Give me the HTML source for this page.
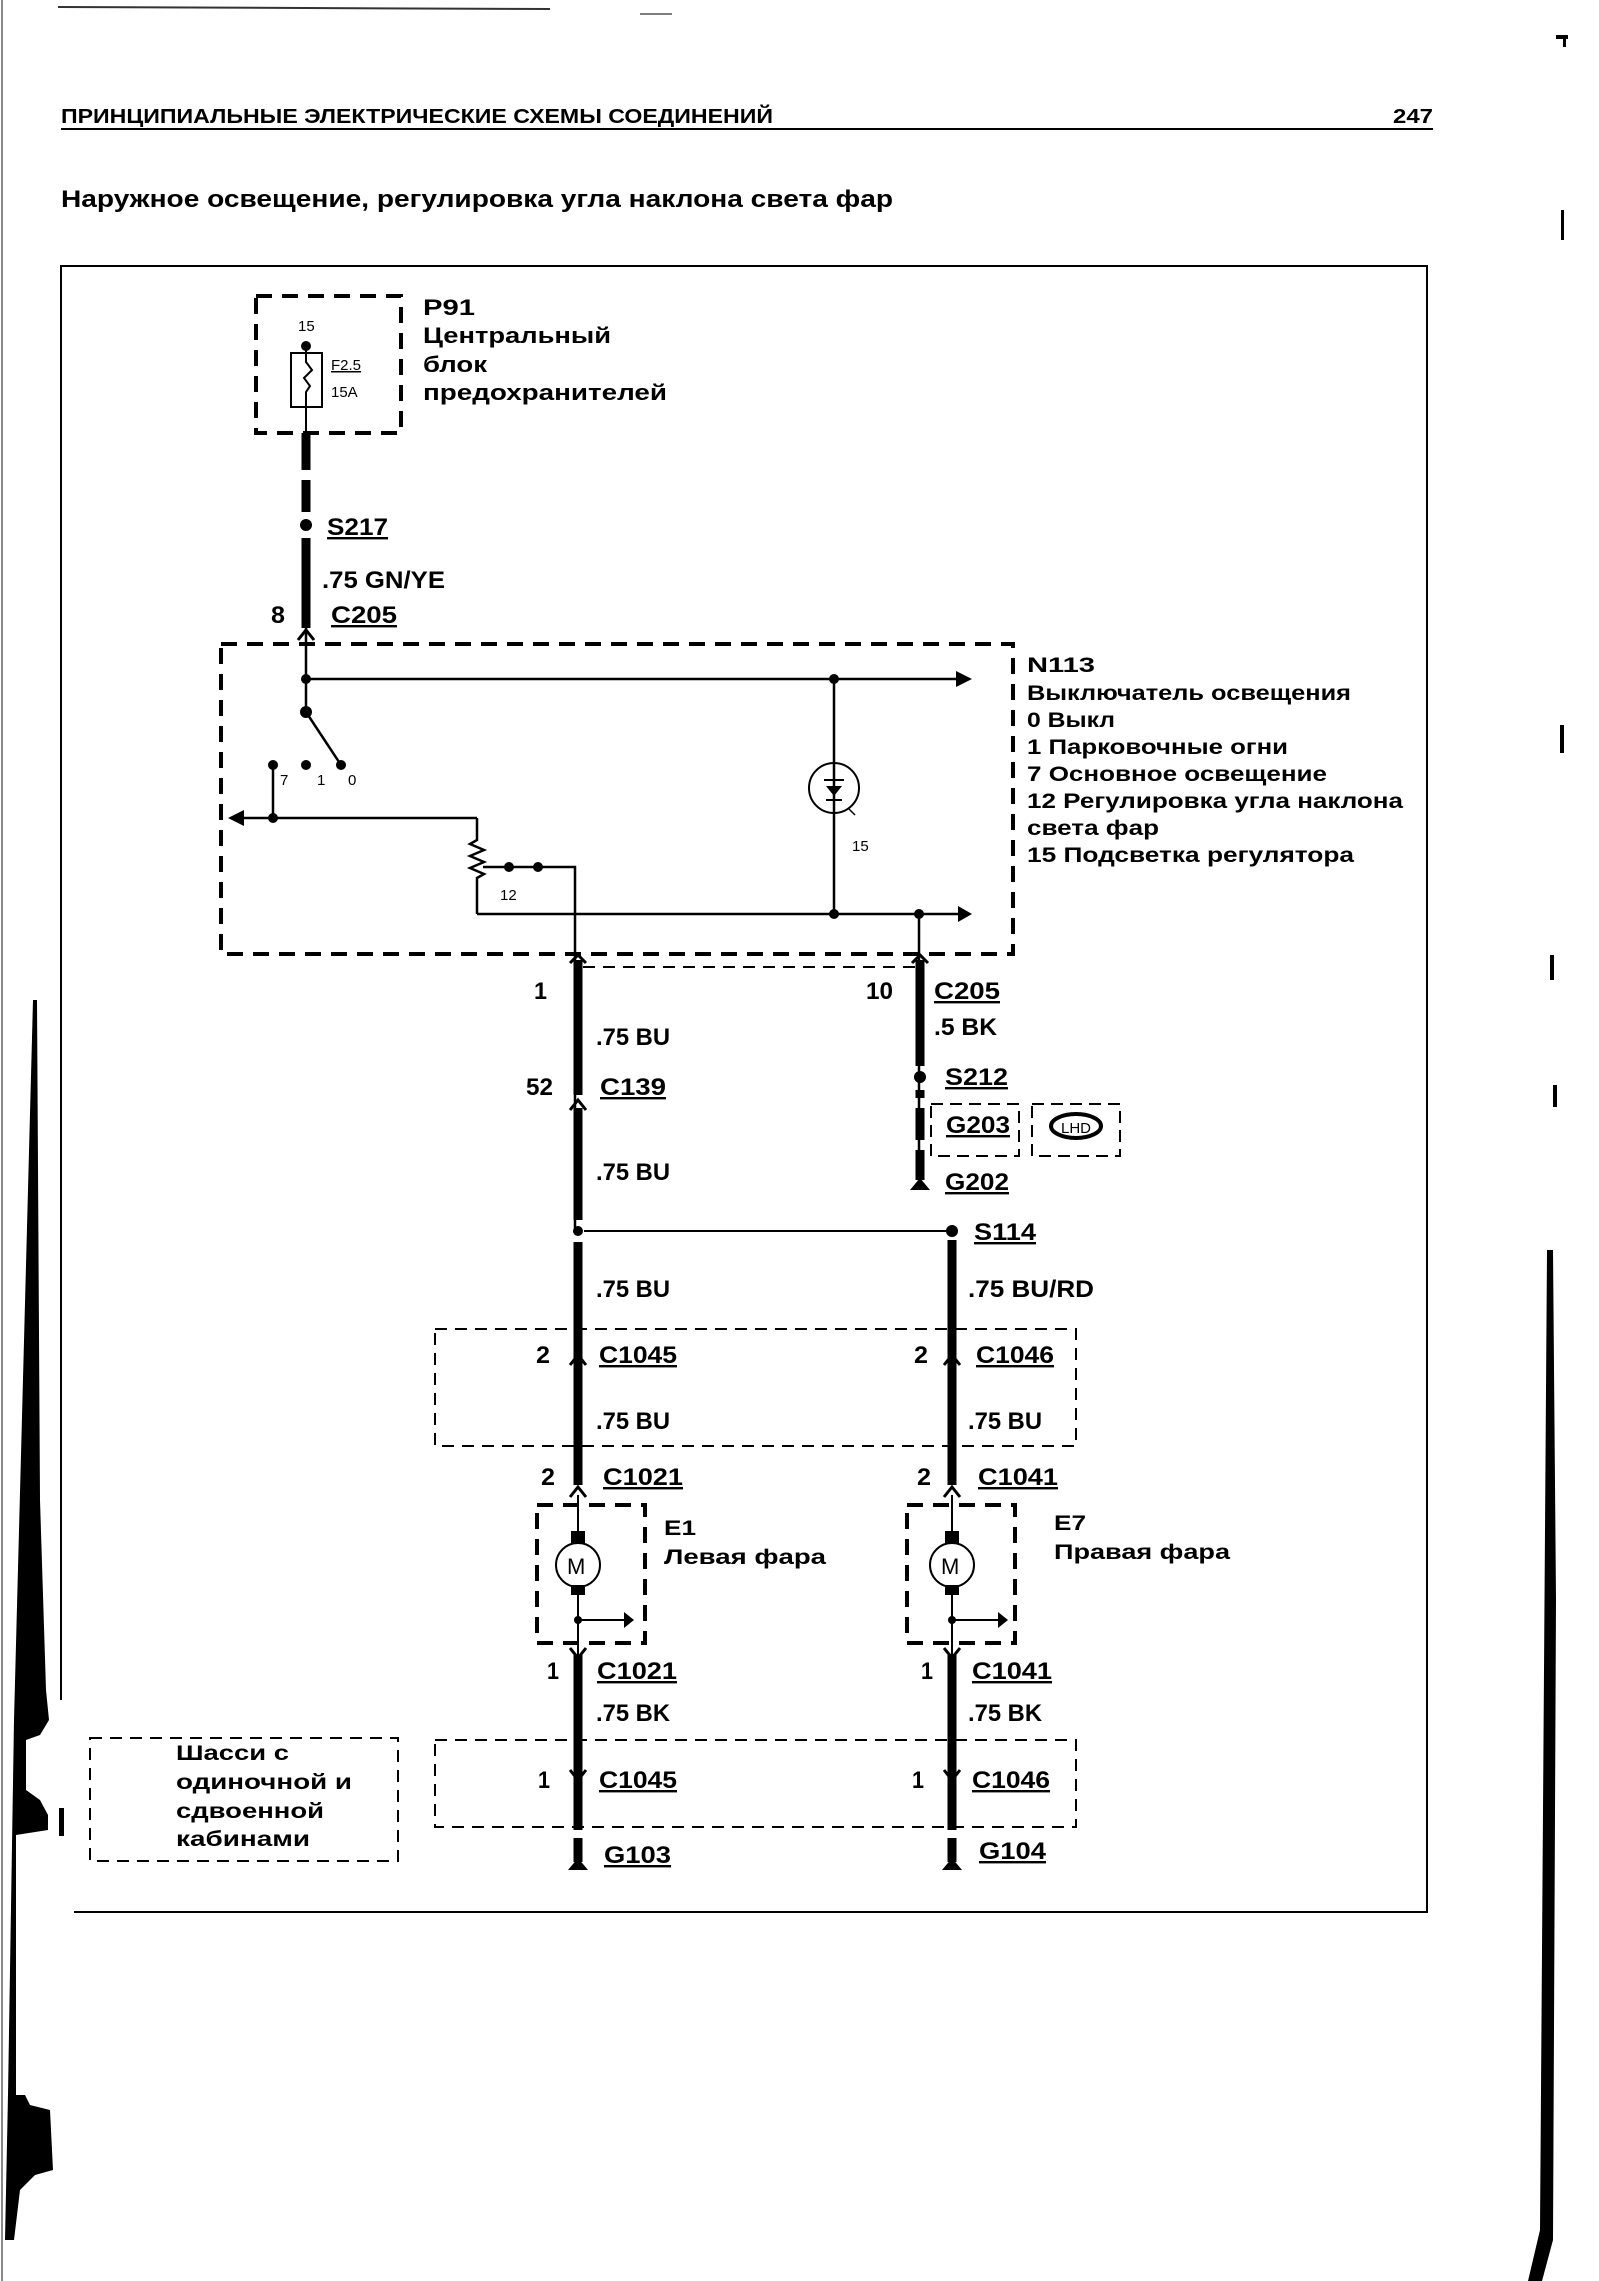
<!DOCTYPE html>
<html><head><meta charset="utf-8"><style>
html,body{margin:0;padding:0;background:#fff}
svg{display:block}
text{font-family:"Liberation Sans","Noto Sans CJK SC",sans-serif;fill:#000}
.b{font-weight:bold}
</style></head><body>
<svg width="1599" height="2281" viewBox="0 0 1599 2281" xmlns="http://www.w3.org/2000/svg">
<rect width="1599" height="2281" fill="#fff"/>
<!-- page artifacts -->
<line x1="2" y1="0" x2="2" y2="2281" stroke="#888" stroke-width="2"/>
<line x1="58" y1="7" x2="550" y2="9" stroke="#333" stroke-width="2"/>
<line x1="640" y1="14" x2="672" y2="14" stroke="#555" stroke-width="1.5"/>
<polygon points="33,1000 37,1000 40,1500 46,1690 49,1720 40,1735 26,1740 26,1790 40,1800 48,1815 48,1830 16,1835 16,2095 8,2095 14,1720" fill="#000"/>
<polygon points="8,2095 25,2095 30,2105 50,2110 53,2170 35,2175 20,2190 14,2240 5,2240" fill="#000"/>
<rect x="59" y="1808" width="5" height="28" fill="#000"/>
<polygon points="1547,1250 1553,1250 1556,1600 1553,2240 1542,2281 1528,2281 1540,2230" fill="#000"/>
<rect x="1550" y="955" width="4" height="25" fill="#000"/>
<rect x="1553" y="1085" width="4" height="22" fill="#000"/>
<rect x="1560" y="725" width="4" height="28" fill="#000"/>
<rect x="1561" y="210" width="3" height="30" fill="#000"/>
<rect x="1556" y="35" width="12" height="4" fill="#000"/>
<rect x="1563" y="35" width="3" height="12" fill="#000"/>

<!-- header -->
<text x="61" y="123" class="b" font-size="20" textLength="712" lengthAdjust="spacingAndGlyphs">ПРИНЦИПИАЛЬНЫЕ ЭЛЕКТРИЧЕСКИЕ СХЕМЫ СОЕДИНЕНИЙ</text>
<text x="1393" y="123" class="b" font-size="20" textLength="40" lengthAdjust="spacingAndGlyphs">247</text>
<line x1="61" y1="129" x2="1433" y2="129" stroke="#000" stroke-width="2"/>
<text x="61" y="207" class="b" font-size="24" textLength="832" lengthAdjust="spacingAndGlyphs">Наружное освещение, регулировка угла наклона света фар</text>

<!-- frame -->
<path d="M61,1700 V266 H1427 V1912 H74" fill="none" stroke="#000" stroke-width="2"/>

<g fill="none" stroke="#000">
<rect x="256" y="296" width="145" height="137" stroke-width="4" stroke-dasharray="16,10"/>
<rect x="291" y="353" width="31" height="54" stroke-width="2"/>
<path d="M306,346 V362 l6,8 -8,8 6,8 -4,6 V433" stroke-width="2"/>
<path d="M306,433 V470 M306,480 V512 M306,538 V628" stroke-width="9"/>
<rect x="221" y="644" width="792" height="310" stroke-width="4" stroke-dasharray="16,10"/>
<path d="M306,628 V712 M306,679 H960 M834,679 V914 M477,914 H960 M477,818 V840 l-7,4 14,6 -14,6 14,6 -14,6 14,6 -7,4 V914 M238,818 H477 M273,765 V818 M306,712 L341,765 M483,867 H575 V1231 M919,914 V1185" stroke-width="2.5"/>
<circle cx="834" cy="788" r="25" stroke-width="2"/>
<path d="M824,780 H844 M834,780 V800 M826,800 H842" stroke-width="2"/>
<line x1="848" y1="808" x2="855" y2="815" stroke-width="1.5"/>
<path d="M583,967 H915" stroke-width="2" stroke-dasharray="12,8"/>
<path d="M578,960 V1095 M578,1108 V1220 M578,1242 V1485 M578,1655 V1830 M578,1838 V1862" stroke-width="9"/>
<path d="M920,960 V1066 M920,1090 V1098 M920,1108 V1140 M920,1150 V1180" stroke-width="9"/>
<path d="M952,1240 V1485 M952,1655 V1830 M952,1838 V1862" stroke-width="9"/>
<path d="M584,1231 H946" stroke-width="2"/>
<rect x="931" y="1104" width="88" height="52" stroke-width="2" stroke-dasharray="12,7"/>
<rect x="1032" y="1104" width="88" height="52" stroke-width="2" stroke-dasharray="12,7"/>
<ellipse cx="1076" cy="1126" rx="25" ry="12" stroke-width="4"/>
<rect x="435" y="1329" width="641" height="117" stroke-width="2" stroke-dasharray="12,8"/>
<rect x="435" y="1740" width="641" height="87" stroke-width="2" stroke-dasharray="12,8"/>
<rect x="90" y="1738" width="308" height="123" stroke-width="2" stroke-dasharray="12,8"/>
<rect x="537" y="1505" width="108" height="138" stroke-width="4" stroke-dasharray="16,10"/>
<rect x="907" y="1505" width="108" height="138" stroke-width="4" stroke-dasharray="16,10"/>
<path d="M578,1495 V1543 M578,1587 V1655 M578,1620 H628 M952,1495 V1543 M952,1587 V1655 M952,1620 H1002" stroke-width="2"/>
<circle cx="578" cy="1565" r="22" stroke-width="2" fill="#fff"/>
<circle cx="952" cy="1565" r="22" stroke-width="2" fill="#fff"/>
<g stroke-width="3">
<path d="M298,640 l8,-10 8,10"/><path d="M570,1110 l8,-10 8,10"/>
<path d="M570,1365 l8,-10 8,10"/><path d="M944,1365 l8,-10 8,10"/>
<path d="M570,1497 l8,-10 8,10"/><path d="M944,1497 l8,-10 8,10"/>
<path d="M570,1648 l8,10 8,-10"/><path d="M944,1648 l8,10 8,-10"/>
<path d="M570,1770 l8,10 8,-10"/><path d="M944,1770 l8,10 8,-10"/>
<path d="M570,963 l8,-8 8,8"/><path d="M912,963 l8,-8 8,8"/>
</g>
</g>
<g fill="#000">
<circle cx="306" cy="346" r="5"/>
<circle cx="306" cy="525" r="6"/>
<circle cx="306" cy="679" r="5"/><circle cx="306" cy="712" r="6"/>
<circle cx="273" cy="765" r="5"/><circle cx="306" cy="765" r="5"/><circle cx="341" cy="765" r="5"/>
<circle cx="273" cy="818" r="5"/><circle cx="509" cy="867" r="5"/><circle cx="538" cy="867" r="5"/>
<circle cx="834" cy="679" r="5"/><circle cx="834" cy="914" r="5"/><circle cx="919" cy="914" r="5"/>
<polygon points="972,679 956,671 956,687"/>
<polygon points="228,818 244,810 244,826"/>
<polygon points="972,914 958,906 958,922"/>
<polygon points="826,786 842,786 834,796"/>
<circle cx="920" cy="1077" r="6"/>
<circle cx="578" cy="1231" r="5"/><circle cx="952" cy="1231" r="6"/>
<polygon points="910,1190 930,1190 920,1178"/>
<polygon points="568,1870 588,1870 578,1858"/>
<polygon points="942,1870 962,1870 952,1858"/>
<rect x="571" y="1531" width="14" height="13"/><rect x="571" y="1585" width="14" height="10"/>
<rect x="945" y="1531" width="14" height="13"/><rect x="945" y="1585" width="14" height="10"/>
<circle cx="578" cy="1620" r="4"/><circle cx="952" cy="1620" r="4"/>
<polygon points="634,1620 624,1612 624,1628"/><polygon points="1008,1620 998,1612 998,1628"/>
</g>
<text x="567" y="1574" font-size="22">M</text>
<text x="941" y="1574" font-size="22">M</text>
<text x="298" y="331" font-size="15">15</text>
<text x="331" y="370" font-size="15" text-decoration="underline">F2.5</text>
<text x="331" y="397" font-size="15">15A</text>
<text x="280" y="785" font-size="15">7</text>
<text x="317" y="785" font-size="15">1</text>
<text x="348" y="785" font-size="15">0</text>
<text x="500" y="900" font-size="15">12</text>
<text x="852" y="851" font-size="15">15</text>
<text x="1061" y="1133" font-size="15">LHD</text>

<g class="b" font-size="22">
<text x="423" y="315" textLength="52" lengthAdjust="spacingAndGlyphs">P91</text>
<text x="423" y="343" textLength="188" lengthAdjust="spacingAndGlyphs">Центральный</text>
<text x="423" y="372" textLength="64" lengthAdjust="spacingAndGlyphs">блок</text>
<text x="423" y="400" textLength="244" lengthAdjust="spacingAndGlyphs">предохранителей</text>
</g>
<g class="b" font-size="21">
<text x="1027" y="672" textLength="68" lengthAdjust="spacingAndGlyphs">N113</text>
<text x="1027" y="700" textLength="324" lengthAdjust="spacingAndGlyphs">Выключатель освещения</text>
<text x="1027" y="727" textLength="88" lengthAdjust="spacingAndGlyphs">0 Выкл</text>
<text x="1027" y="754" textLength="261" lengthAdjust="spacingAndGlyphs">1 Парковочные огни</text>
<text x="1027" y="781" textLength="300" lengthAdjust="spacingAndGlyphs">7 Основное освещение</text>
<text x="1027" y="808" textLength="376" lengthAdjust="spacingAndGlyphs">12 Регулировка угла наклона</text>
<text x="1027" y="835" textLength="132" lengthAdjust="spacingAndGlyphs">света фар</text>
<text x="1027" y="862" textLength="327" lengthAdjust="spacingAndGlyphs">15 Подсветка регулятора</text>
<text x="664" y="1535" textLength="32" lengthAdjust="spacingAndGlyphs">E1</text>
<text x="664" y="1564" textLength="162" lengthAdjust="spacingAndGlyphs">Левая фара</text>
<text x="1054" y="1530" textLength="32" lengthAdjust="spacingAndGlyphs">E7</text>
<text x="1054" y="1559" textLength="176" lengthAdjust="spacingAndGlyphs">Правая фара</text>
<text x="176" y="1760" textLength="113" lengthAdjust="spacingAndGlyphs">Шасси с</text>
<text x="176" y="1789" textLength="176" lengthAdjust="spacingAndGlyphs">одиночной и</text>
<text x="176" y="1818" textLength="148" lengthAdjust="spacingAndGlyphs">сдвоенной</text>
<text x="176" y="1846" textLength="134" lengthAdjust="spacingAndGlyphs">кабинами</text>
</g>
<g class="b" font-size="24">
<text x="327" y="535" textLength="61" lengthAdjust="spacingAndGlyphs" text-decoration="underline">S217</text>
<text x="322" y="588" textLength="123" lengthAdjust="spacingAndGlyphs">.75 GN/YE</text>
<text x="271" y="623" textLength="14" lengthAdjust="spacingAndGlyphs">8</text>
<text x="331" y="623" textLength="66" lengthAdjust="spacingAndGlyphs" text-decoration="underline">C205</text>
<text x="534" y="999" textLength="13" lengthAdjust="spacingAndGlyphs">1</text>
<text x="866" y="999" textLength="27" lengthAdjust="spacingAndGlyphs">10</text>
<text x="934" y="999" textLength="66" lengthAdjust="spacingAndGlyphs" text-decoration="underline">C205</text>
<text x="934" y="1035" textLength="63" lengthAdjust="spacingAndGlyphs">.5 BK</text>
<text x="596" y="1045" textLength="74" lengthAdjust="spacingAndGlyphs">.75 BU</text>
<text x="526" y="1095" textLength="27" lengthAdjust="spacingAndGlyphs">52</text>
<text x="600" y="1095" textLength="66" lengthAdjust="spacingAndGlyphs" text-decoration="underline">C139</text>
<text x="945" y="1085" textLength="63" lengthAdjust="spacingAndGlyphs" text-decoration="underline">S212</text>
<text x="946" y="1133" textLength="64" lengthAdjust="spacingAndGlyphs" text-decoration="underline">G203</text>
<text x="596" y="1180" textLength="74" lengthAdjust="spacingAndGlyphs">.75 BU</text>
<text x="945" y="1190" textLength="64" lengthAdjust="spacingAndGlyphs" text-decoration="underline">G202</text>
<text x="974" y="1240" textLength="62" lengthAdjust="spacingAndGlyphs" text-decoration="underline">S114</text>
<text x="596" y="1297" textLength="74" lengthAdjust="spacingAndGlyphs">.75 BU</text>
<text x="968" y="1297" textLength="126" lengthAdjust="spacingAndGlyphs">.75 BU/RD</text>
<text x="536" y="1363" textLength="14" lengthAdjust="spacingAndGlyphs">2</text>
<text x="599" y="1363" textLength="78" lengthAdjust="spacingAndGlyphs" text-decoration="underline">C1045</text>
<text x="914" y="1363" textLength="14" lengthAdjust="spacingAndGlyphs">2</text>
<text x="976" y="1363" textLength="78" lengthAdjust="spacingAndGlyphs" text-decoration="underline">C1046</text>
<text x="596" y="1429" textLength="74" lengthAdjust="spacingAndGlyphs">.75 BU</text>
<text x="968" y="1429" textLength="74" lengthAdjust="spacingAndGlyphs">.75 BU</text>
<text x="541" y="1485" textLength="14" lengthAdjust="spacingAndGlyphs">2</text>
<text x="603" y="1485" textLength="80" lengthAdjust="spacingAndGlyphs" text-decoration="underline">C1021</text>
<text x="917" y="1485" textLength="14" lengthAdjust="spacingAndGlyphs">2</text>
<text x="978" y="1485" textLength="80" lengthAdjust="spacingAndGlyphs" text-decoration="underline">C1041</text>
<text x="547" y="1679" textLength="12" lengthAdjust="spacingAndGlyphs">1</text>
<text x="597" y="1679" textLength="80" lengthAdjust="spacingAndGlyphs" text-decoration="underline">C1021</text>
<text x="921" y="1679" textLength="12" lengthAdjust="spacingAndGlyphs">1</text>
<text x="972" y="1679" textLength="80" lengthAdjust="spacingAndGlyphs" text-decoration="underline">C1041</text>
<text x="596" y="1721" textLength="74" lengthAdjust="spacingAndGlyphs">.75 BK</text>
<text x="968" y="1721" textLength="74" lengthAdjust="spacingAndGlyphs">.75 BK</text>
<text x="538" y="1788" textLength="12" lengthAdjust="spacingAndGlyphs">1</text>
<text x="599" y="1788" textLength="78" lengthAdjust="spacingAndGlyphs" text-decoration="underline">C1045</text>
<text x="912" y="1788" textLength="12" lengthAdjust="spacingAndGlyphs">1</text>
<text x="972" y="1788" textLength="78" lengthAdjust="spacingAndGlyphs" text-decoration="underline">C1046</text>
<text x="604" y="1863" textLength="67" lengthAdjust="spacingAndGlyphs" text-decoration="underline">G103</text>
<text x="979" y="1859" textLength="67" lengthAdjust="spacingAndGlyphs" text-decoration="underline">G104</text>
</g>
</svg>
</body></html>
